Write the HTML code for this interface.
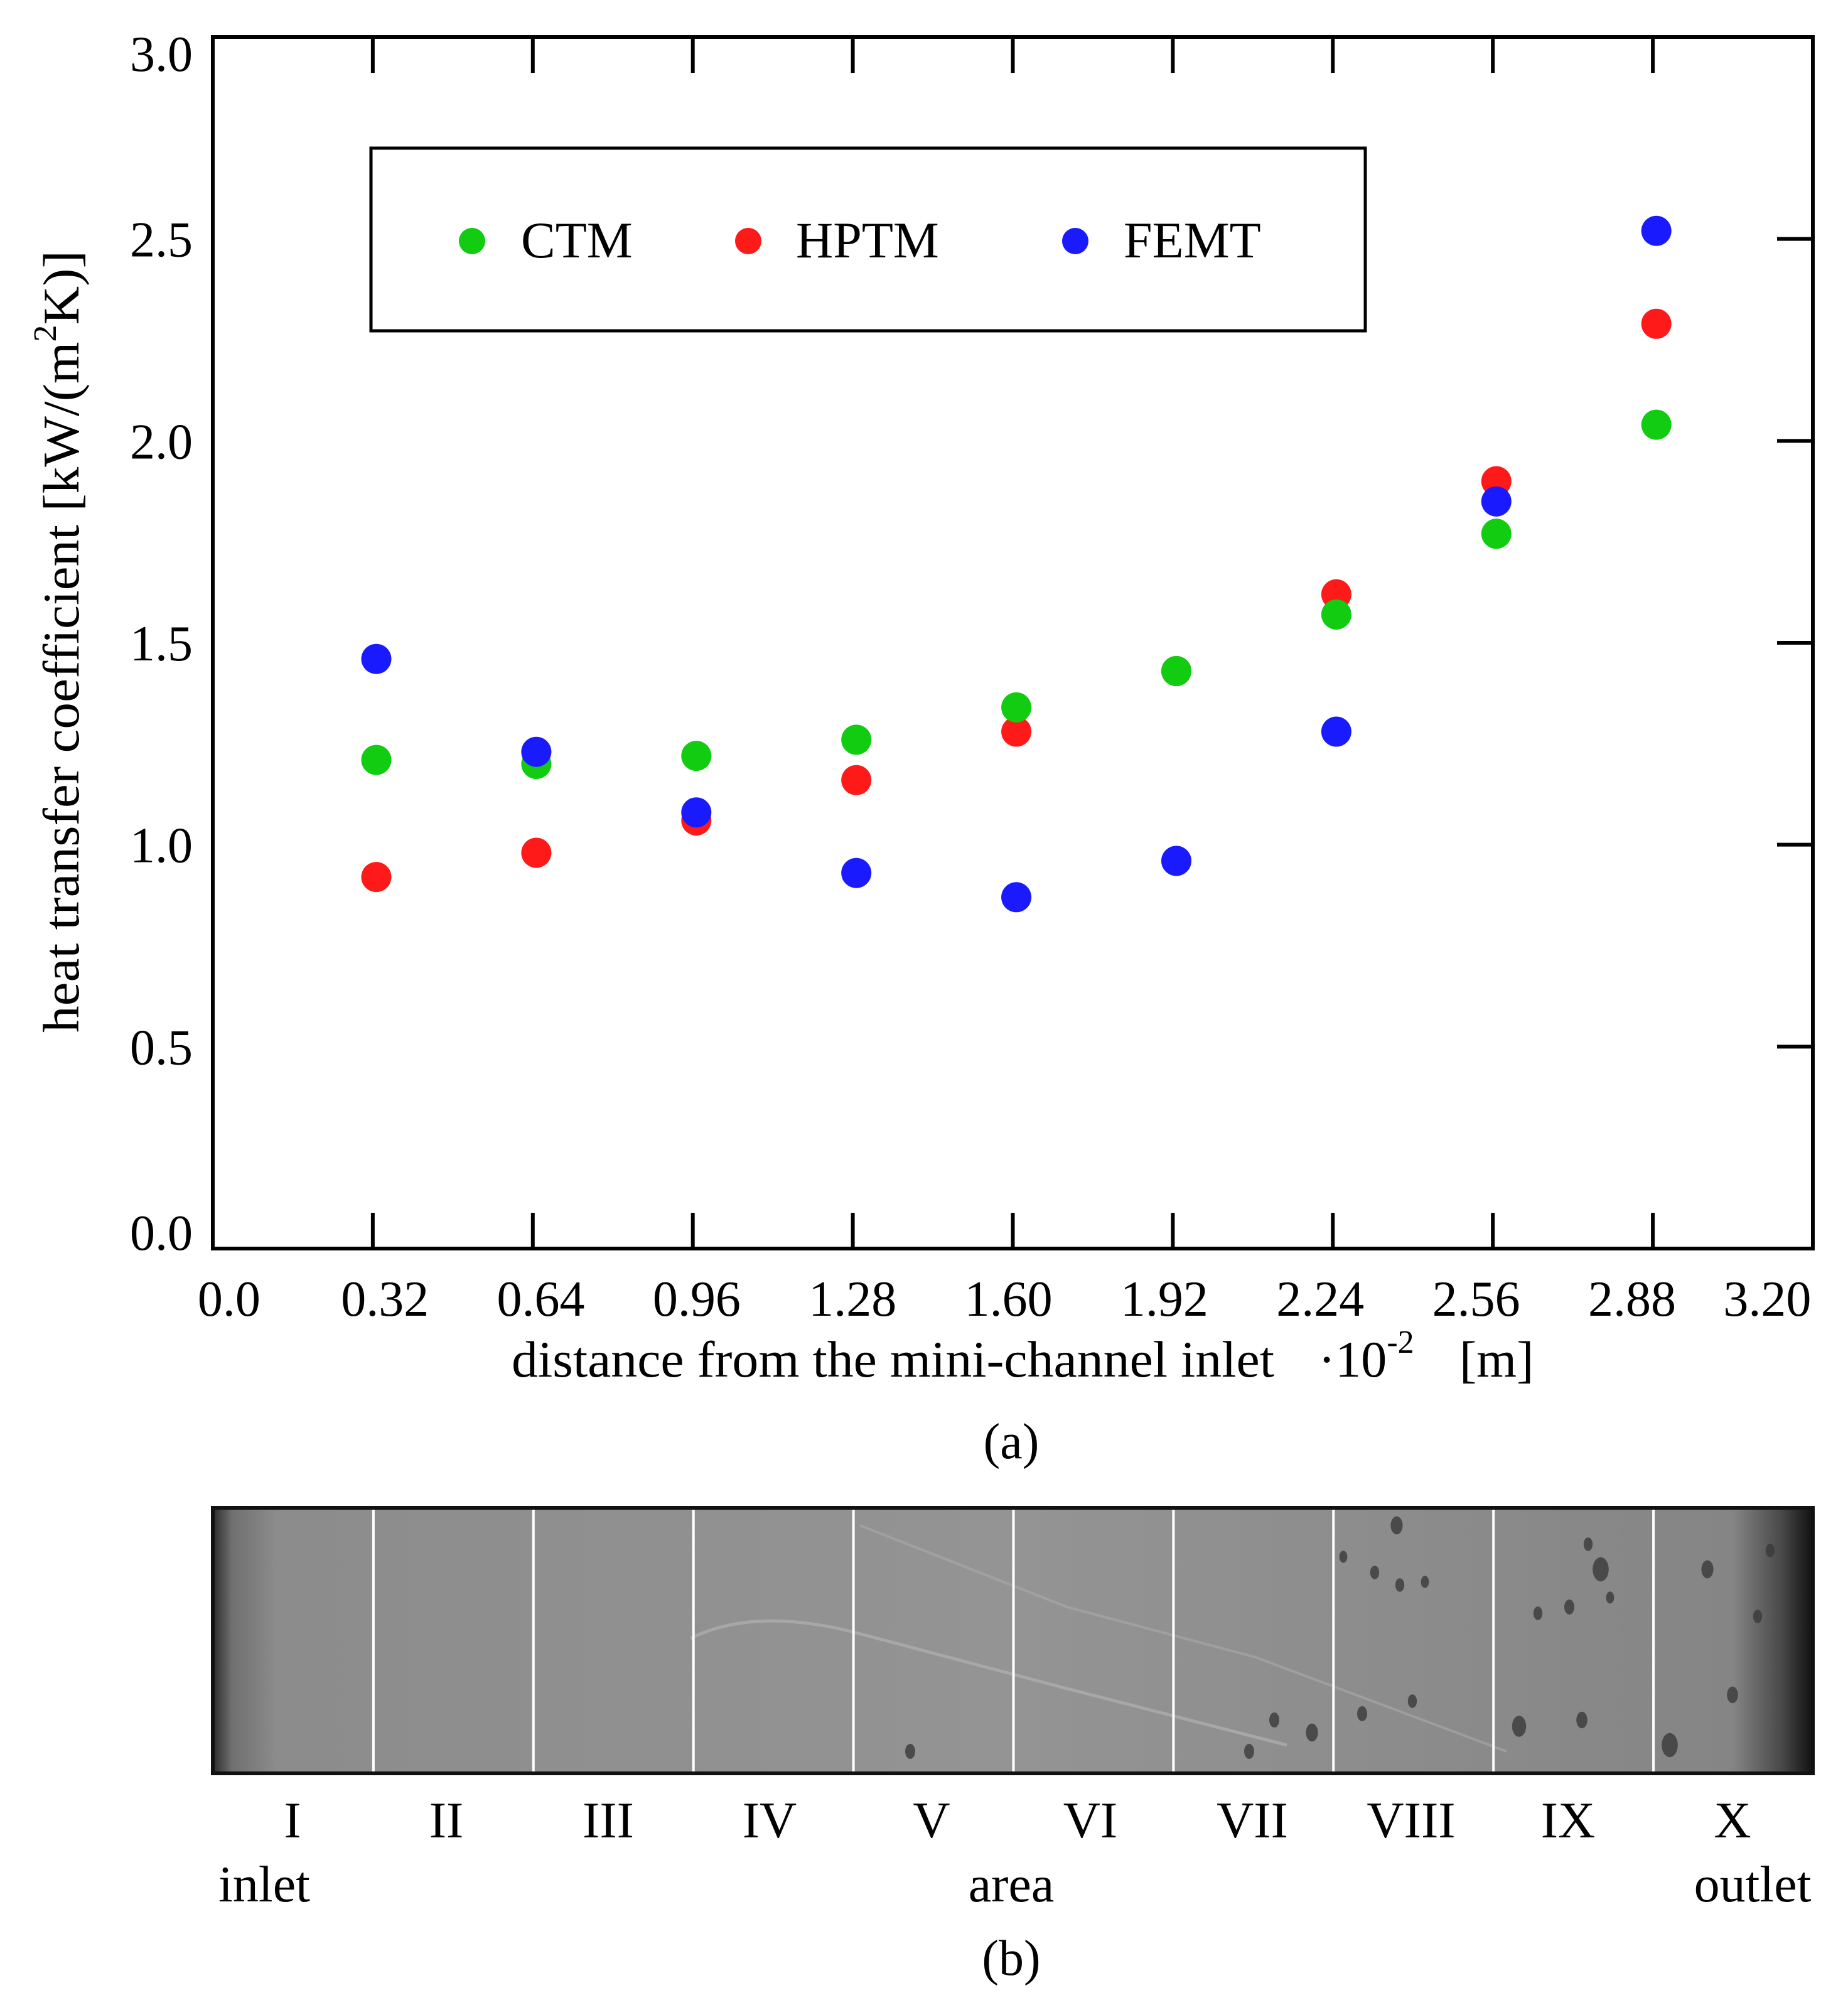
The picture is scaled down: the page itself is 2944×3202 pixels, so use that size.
<!DOCTYPE html>
<html><head><meta charset="utf-8">
<style>
html,body{margin:0;padding:0;background:#fff;}
svg{display:block;font-family:"Liberation Serif","DejaVu Serif",serif;}
</style></head>
<body>
<svg id="fig" width="2944" height="3202" viewBox="0 0 2944 3202" xmlns="http://www.w3.org/2000/svg">
  <defs>
    <linearGradient id="edgeL" x1="0" x2="1" y1="0" y2="0">
      <stop offset="0" stop-color="#2a2a2a"/>
      <stop offset="0.012" stop-color="#707070"/>
      <stop offset="0.04" stop-color="#8c8c8c"/>
      <stop offset="0.5" stop-color="#949494"/>
      <stop offset="0.95" stop-color="#858585"/>
      <stop offset="0.98" stop-color="#4a4a4a"/>
      <stop offset="1" stop-color="#111"/>
    </linearGradient>
  </defs>
  <g id="plot"></g>
  <g id="legend"></g>
  <g id="labels"></g>
  <g id="photo"></g>
</svg>
<script>
const xTicks = [0.32,0.64,0.96,1.28,1.60,1.92,2.24,2.56,2.88];
const xTickLabels = ["0.0","0.32","0.64","0.96","1.28","1.60","1.92","2.24","2.56","2.88","3.20"];
const xTickLabelVals = [0,0.32,0.64,0.96,1.28,1.60,1.92,2.24,2.56,2.88,3.20];
const yTicks = [0.0,0.5,1.0,1.5,2.0,2.5,3.0];
const yTickLabels = ["0.0","0.5","1.0","1.5","2.0","2.5","3.0"];
const positions = [0.327,0.647,0.967,1.287,1.607,1.927,2.247,2.567,2.887];
const ctm  = [1.21,1.20,1.22,1.26,1.34,1.43,1.57,1.77,2.04];
const hptm = [0.92,0.98,1.06,1.16,1.28,1.43,1.62,1.90,2.29];
const femt = [1.46,1.23,1.08,0.93,0.87,0.96,1.28,1.85,2.52];
const areaLabels = ["I","II","III","IV","V","VI","VII","VIII","IX","X"];

const NS="http://www.w3.org/2000/svg";
const L=339,R=2888,T=59,B=1989;
const xs=v=>L+(v/3.2)*(R-L);
const ys=v=>B-(v/3.0)*(B-T);
const xl=v=>(300+(v-0.32)/0.32*121.5)*2.044;
function mk(tag,attrs,parent,text){const e=document.createElementNS(NS,tag);for(const k in attrs)e.setAttribute(k,attrs[k]);if(text!==undefined)e.textContent=text;parent.appendChild(e);return e;}

const plot=document.getElementById('plot');
let fr=mk('rect',{x:L,y:T,width:R-L,height:B-T,fill:'none',stroke:'#000','stroke-width':6},plot);


xTicks.forEach(v=>{
  let t1=mk('line',{x1:xs(v),x2:xs(v),y1:B,y2:B-57,stroke:'#000','stroke-width':6},plot);
  
  
  let t2=mk('line',{x1:xs(v),x2:xs(v),y1:T,y2:T+57,stroke:'#000','stroke-width':6},plot);
  
  
});
yTicks.forEach((v,i)=>{
  if(v>0&&v<3){
    let t=mk('line',{x1:R,x2:R-57,y1:ys(v),y2:ys(v),stroke:'#000','stroke-width':6},plot);
    
    
  }
  let y=ys(v)+28; if(v===0)y-=26; if(v===3)y+=26;
  let lb=mk('text',{x:307,y:y,'font-size':80,'text-anchor':'end'},plot,yTickLabels[i]);
  
  
});
xTickLabelVals.forEach((v,i)=>{
  let x=xl(v); if(i===xTickLabelVals.length-1)x-=33;
  let lb=mk('text',{x:x,y:2096,'font-size':80,'text-anchor':'middle'},plot,xTickLabels[i]);
  
  
});
function series(vals,color,name){
  const g=mk('g',{},plot);
  
  
  vals.forEach((v,i)=>{
    let c=mk('circle',{cx:xs(positions[i]),cy:ys(v),r:24,fill:color},g);
    
    
  });
}
series(hptm,'#ff1a1a','hptm');
series(ctm,'#11cc11','ctm');
series(femt,'#1a1aff','femt');

const lg=document.getElementById('legend');
mk('rect',{x:591,y:236,width:1584,height:291,fill:'#fff',stroke:'#000','stroke-width':5},lg);
[[752,'#11cc11','CTM',830],[1192,'#ff1a1a','HPTM',1268],[1713,'#1a1aff','FEMT',1790]].forEach(d=>{
  let c=mk('circle',{cx:d[0],cy:384,r:21,fill:d[1]},lg);
  
  
  let t=mk('text',{x:d[3],y:410,'font-size':82},lg,d[2]);
  
  
});

const lab=document.getElementById('labels');
let xt=mk('text',{x:815,y:2193,'font-size':82,textLength:1215,lengthAdjust:'spacingAndGlyphs'},lab,'distance from the mini-channel inlet');


let xu=mk('text',{x:2100,y:2193,'font-size':82},lab);
xu.innerHTML='·10<tspan dy="-38" font-size="52">-2</tspan><tspan dy="38" x="2325">[m]</tspan>';


let yt=mk('text',{x:0,y:0,'font-size':82,transform:'translate(125,1645) rotate(-90)',textLength:1246,lengthAdjust:'spacingAndGlyphs'},lab);
yt.innerHTML='heat transfer coefficient   [kW/(m<tspan dy="-36" font-size="52">2</tspan><tspan dy="36">K)]</tspan>';


let ca=mk('text',{x:1611,y:2323,'font-size':80,'text-anchor':'middle'},lab,'(a)');



const ph=document.getElementById('photo');
const PL=339,PR=2888,PT=2402,PB=2825;
mk('rect',{x:PL,y:PT,width:PR-PL,height:PB-PT,fill:'url(#edgeL)',stroke:'#111','stroke-width':6},ph);
mk('path',{d:'M1100 2610 Q1200 2560 1360 2600 L1700 2690 L2050 2780',fill:'none',stroke:'#b0b0b0','stroke-width':5,opacity:0.7},ph);
mk('path',{d:'M1370 2430 L1700 2560 L2000 2640 L2400 2790',fill:'none',stroke:'#aaaaaa','stroke-width':4,opacity:0.6},ph);
[[2225,2430,12],[2140,2480,8],[2190,2505,9],[2230,2525,9],[2270,2520,8],[2550,2500,16],[2530,2460,9],[2720,2500,12],[2820,2470,9],[2500,2560,10],[2450,2570,9],[2565,2545,8],[2420,2750,14],[2520,2740,11],[2660,2780,16],[2760,2700,11],[2030,2740,10],[2090,2760,12],[2170,2730,10],[2250,2710,9],[1990,2790,10],[1450,2790,10],[2800,2575,9]].forEach(d=>{
  mk('ellipse',{cx:d[0],cy:d[1],rx:d[2]*0.8,ry:d[2]*1.2,fill:'#3a3a3a',opacity:0.8},ph);
});
xTicks.forEach(v=>{
  let l=mk('line',{x1:xs(v)+1,x2:xs(v)+1,y1:PT+3,y2:PB-3,stroke:'#fff','stroke-width':4},ph);
  
  
});
const romanX=[466,711,969,1226,1484,1737,1995,2248,2498,2760];
areaLabels.forEach((s,i)=>{
  let t=mk('text',{x:romanX[i],y:2927,'font-size':82,'text-anchor':'middle'},ph,s);
  
  
});
[['inlet',421],['area',1611],['outlet',2792]].forEach(d=>{
  let t=mk('text',{x:d[1],y:3029,'font-size':82,'text-anchor':'middle'},ph,d[0]);
  
  
});
let cb=mk('text',{x:1611,y:3146,'font-size':80,'text-anchor':'middle'},ph,'(b)');


</script>
</body></html>
